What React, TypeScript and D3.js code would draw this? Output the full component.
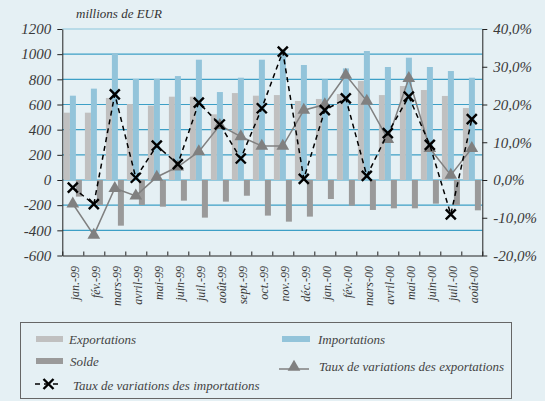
import React from 'react';
import { useEffect, useRef } from 'react';
import * as d3 from 'd3';

// Months (jan. 1999 -> août 2000)
const months = ['jan.-99', 'fév.-99', 'mars-99', 'avril-99', 'mai-99', 'juin-99', 'juil.-99', 'août-99',
    'sept.-99', 'oct.-99', 'nov.-99', 'déc.-99', 'jan.-00', 'fév.-00', 'mars-00', 'avril-00',
    'mai-00', 'juin-00', 'juil.-00', 'août-00'];

// millions de EUR
const exportations = [535, 535, 652, 604, 591, 662, 662, 522, 691, 670, 675, 628, 644, 683, 787, 675, 747, 715, 668, 572];
const importations = [670, 726, 1009, 803, 803, 826, 956, 699, 813, 956, 1025, 914, 800, 887, 1025, 898, 972, 898, 866, 813];
const solde = [-132, -199, -363, -199, -212, -164, -299, -172, -125, -283, -331, -291, -151, -204, -238, -225, -225, -188, -199, -241];

// taux de variations (%)
const tauxImportations = [-2.0, -6.4, 22.7, 0.6, 9.1, 4.2, 20.5, 14.7, 5.7, 19.0, 34.0, 0.3, 18.5, 21.6, 1.1, 12.4, 22.1, 9.3, -9.1, 16.1];
const tauxExportations = [-6.3, -14.6, -2.2, -4.2, 0.8, 3.5, 7.5, 14.5, 11.5, 9.0, 9.0, 18.5, 20.0, 27.8, 20.9, 10.8, 26.9, 8.4, 1.3, 8.4];

const leftTicks = [-600, -400, -200, 0, 200, 400, 600, 800, 1000, 1200];
const rightTicks = [-20, -10, 0, 10, 20, 30, 40];

const BG = '#e5f0f4';
const EXP = '#c0c0c0';
const IMP = '#93c4da';
const SOL = '#9a9a9a';
const TRI = '#808080';
const GRID = '#3d9fc6';
const FONT = '"Liberation Serif", "Times New Roman", serif';

export default function App() {
    const svgNode = useRef<SVGSVGElement>(null);
    const width = 545, height = 401;

    useEffect(() => {
        const svg = d3.select(svgNode.current);
        svg.selectAll('*').remove();

        svg.append('rect').attr('width', width).attr('height', height).attr('fill', BG);

        const x = d3.scaleBand().domain(months).range([62.3, 482.3]).padding(0);
        const xs = d3.scaleBand().domain(['exp', 'imp', 'sol']).range([1.6, 19.6]).padding(0);
        const y = d3.scaleLinear().domain([-600, 1200]).range([255.5, 29]);
        const y2 = d3.scaleLinear().domain([-20, 40]).range([255.5, 29]);
        const cx = (i: number) => (x(months[i]) as number) + x.bandwidth() / 2;

        //gridlines
        svg.append('g').selectAll('line')
            .data(leftTicks.filter(d => d > -600))
            .join('line')
            .attr('x1', 62.3).attr('x2', 482.3)
            .attr('y1', d => y(d)).attr('y2', d => y(d))
            .attr('stroke', d => d === 1200 ? '#8cc5dc' : GRID)
            .attr('stroke-width', 1.2);

        //bars
        const bars = [
            { key: 'exp', data: exportations, color: EXP },
            { key: 'imp', data: importations, color: IMP },
            { key: 'sol', data: solde, color: SOL },
        ];
        bars.forEach(s => {
            svg.append('g').selectAll('rect')
                .data(s.data)
                .join('rect')
                .attr('x', (d, i) => (x(months[i]) as number) + (xs(s.key) as number))
                .attr('width', xs.bandwidth())
                .attr('y', d => y(Math.max(0, d)))
                .attr('height', d => Math.abs(y(d) - y(0)))
                .attr('fill', s.color);
        });

        //axes
        const axisColor = '#222';
        const styleAxis = (g: any) => {
            g.selectAll('path, line').attr('stroke', axisColor);
            g.selectAll('text')
                .attr('fill', '#3a3a3a')
                .style('font-family', FONT)
                .style('font-style', 'italic')
                .style('font-size', '15px');
        };
        svg.append('g')
            .attr('transform', 'translate(62.3,0)')
            .call(d3.axisLeft(y).tickValues(leftTicks).tickSizeInner(5).tickSizeOuter(0).tickPadding(6).tickFormat(d => String(d)))
            .call(styleAxis);
        svg.append('g')
            .attr('transform', 'translate(482.3,0)')
            .call(d3.axisRight(y2).tickValues(rightTicks).tickSizeInner(5).tickSizeOuter(0).tickPadding(6)
                .tickFormat(d => (d as number).toFixed(1).replace('.', ',') + '%'))
            .call(styleAxis);
        const xLin = d3.scaleLinear().domain([0, months.length]).range(x.range());
        svg.append('g')
            .attr('transform', 'translate(0,255.5)')
            .call(d3.axisBottom(xLin).tickValues(d3.range(0, months.length + 1)).tickSizeInner(-4).tickSizeOuter(0).tickFormat(() => ''))
            .call(styleAxis);

        //month labels
        svg.append('g').selectAll('text')
            .data(months)
            .join('text')
            .attr('transform', (d, i) => `translate(${cx(i) + 6},266) rotate(-90)`)
            .attr('text-anchor', 'end')
            .attr('fill', '#3a3a3a')
            .style('font-family', FONT)
            .style('font-style', 'italic')
            .style('font-size', '12px')
            .text(d => d);

        //unit label
        svg.append('text')
            .attr('x', 76).attr('y', 18)
            .attr('fill', '#333')
            .style('font-family', FONT)
            .style('font-style', 'italic')
            .style('font-size', '13px')
            .text('millions de EUR');

        //export rate line + triangles
        const line = d3.line<number>().x((d, i) => cx(i)).y(d => y2(d));
        svg.append('path')
            .datum(tauxExportations)
            .attr('d', line)
            .attr('fill', 'none')
            .attr('stroke', TRI)
            .attr('stroke-width', 1.5);
        const tri = d3.symbol().type(d3.symbolTriangle).size(70);
        svg.append('g').selectAll('path')
            .data(tauxExportations)
            .join('path')
            .attr('transform', (d, i) => `translate(${cx(i)},${y2(d)})`)
            .attr('d', tri)
            .attr('fill', TRI);

        //import rate line + crosses
        svg.append('path')
            .datum(tauxImportations)
            .attr('d', line)
            .attr('fill', 'none')
            .attr('stroke', '#000')
            .attr('stroke-width', 1.5)
            .attr('stroke-dasharray', '5,4');
        const cross = (px: number, py: number, r: number) =>
            `M${px - r},${py - r}L${px + r},${py + r}M${px - r},${py + r}L${px + r},${py - r}`;
        svg.append('g').selectAll('path')
            .data(tauxImportations)
            .join('path')
            .attr('d', (d, i) => cross(cx(i), y2(d), 5))
            .attr('fill', 'none')
            .attr('stroke', '#000')
            .attr('stroke-width', 2.4);

        //legend
        const lg = svg.append('g');
        lg.append('rect')
            .attr('x', 20.5).attr('y', 322.5).attr('width', 491).attr('height', 76)
            .attr('fill', 'none').attr('stroke', '#666').attr('stroke-width', 1);
        const legendText = (tx: number, ty: number, t: string) => lg.append('text')
            .attr('x', tx).attr('y', ty).attr('dy', '0.35em')
            .attr('fill', '#444')
            .style('font-family', FONT)
            .style('font-style', 'italic')
            .style('font-size', '13px')
            .text(t);
        lg.append('rect').attr('x', 36).attr('y', 336).attr('width', 27).attr('height', 6).attr('fill', EXP);
        legendText(69, 339, 'Exportations');
        lg.append('rect').attr('x', 282).attr('y', 336).attr('width', 28).attr('height', 6).attr('fill', IMP);
        legendText(318, 339, 'Importations');
        lg.append('rect').attr('x', 36).attr('y', 358).attr('width', 27).attr('height', 6).attr('fill', SOL);
        legendText(70, 361, 'Solde');
        lg.append('line').attr('x1', 279).attr('x2', 309).attr('y1', 369).attr('y2', 369)
            .attr('stroke', TRI).attr('stroke-width', 1.5);
        lg.append('path').attr('transform', 'translate(294,367)').attr('d', tri).attr('fill', TRI);
        legendText(319, 366, 'Taux de variations des exportations');
        lg.append('line').attr('x1', 35).attr('x2', 62).attr('y1', 384).attr('y2', 384)
            .attr('stroke', '#000').attr('stroke-width', 1.5).attr('stroke-dasharray', '5,4');
        lg.append('path').attr('d', cross(48.5, 384, 5)).attr('stroke', '#000').attr('stroke-width', 2.4);
        legendText(73, 385, 'Taux de variations des importations');
    }, []);

    return (
        <div style={{ position: 'absolute', left: 0, top: 0 }}>
            <svg ref={svgNode} width={width} height={height} style={{ display: 'block' }}></svg>
        </div>
    );
}
